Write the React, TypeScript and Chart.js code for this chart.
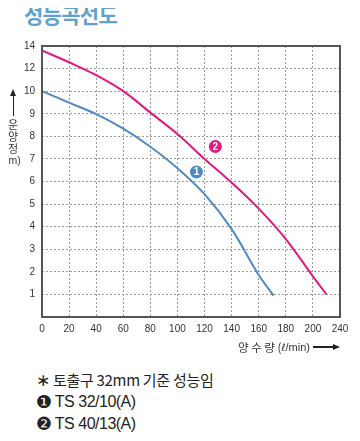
import React, { useEffect, useRef } from "react";
import Chart from "chart.js/auto";

// Real-unit data (flow in ℓ/min, head in m)
const flowBlue = [0, 20, 40, 60, 80, 100, 120, 140, 160, 171];
const headBlue = [10, 9.49, 8.98, 8.34, 7.54, 6.59, 5.44, 3.89, 1.86, 0.95];
const flowPink = [0, 20, 40, 60, 80, 100, 120, 140, 160, 180, 200, 220];
const headPink = [13.6, 12.56, 11.42, 10.0, 9.05, 8.1, 7.0, 5.95, 4.8, 3.45, 1.8, 1.0];

// Axis tick labels (as printed; the axes are compressed above 10 m / 200 ℓ/min)
const xTickLabels = ["0", "20", "40", "60", "80", "100", "120", "140", "160", "180", "200", "240"];
const yTickLabels = ["", "1", "2", "3", "4", "5", "6", "7", "8", "9", "10", "12", "14"];

// Numbered badges (flow, head)
const badgeNums = ["1", "2"];
const badgeFlow = [114, 128];
const badgeHead = [6.42, 7.55];

// Vertical y-axis title characters
const yTitleChars = ["운", "양", "정"];

const BLUE = "#4f8bc3";
const PINK = "#e2187f";

// Piecewise axis mapping
const xPos = (q: number) => (q <= 200 ? q / 20 : 10 + (q - 200) / 40);
const yPos = (h: number) => (h <= 10 ? h : 10 + (h - 10) / 2);

const toPoints = (fs: number[], hs: number[]) => fs.map((f, i) => ({ x: xPos(f), y: yPos(hs[i]) }));

export default function App() {
  const ref = useRef<HTMLCanvasElement | null>(null);

  useEffect(() => {
    if (!ref.current) return;
    const deco = {
      id: "deco",
      afterDatasetsDraw(chart: any) {
        const { ctx, chartArea, scales } = chart;
        ctx.save();
        ctx.strokeStyle = "#555";
        ctx.lineWidth = 2;
        ctx.strokeRect(chartArea.left, chartArea.top, chartArea.right - chartArea.left, chartArea.bottom - chartArea.top);
        const colors = [BLUE, PINK];
        badgeNums.forEach((n, i) => {
          const x = scales.x.getPixelForValue(xPos(badgeFlow[i]));
          const y = scales.y.getPixelForValue(yPos(badgeHead[i]));
          ctx.beginPath();
          ctx.arc(x, y, 6.5, 0, Math.PI * 2);
          ctx.fillStyle = colors[i];
          ctx.fill();
          ctx.fillStyle = "#fff";
          ctx.font = "bold 10px 'Liberation Sans', Arial, sans-serif";
          ctx.textAlign = "center";
          ctx.textBaseline = "middle";
          ctx.fillText(n, x, y + 0.5);
        });
        ctx.restore();
      },
    };
    const chart = new Chart(ref.current, {
      type: "line",
      data: {
        datasets: [
          {
            data: toPoints(flowBlue, headBlue),
            borderColor: BLUE,
            borderWidth: 2,
            pointRadius: 0,
            tension: 0.35,
          },
          {
            data: toPoints(flowPink, headPink),
            borderColor: PINK,
            borderWidth: 2,
            pointRadius: 0,
            tension: 0.35,
          },
        ],
      },
      options: {
        animation: false,
        responsive: false,
        devicePixelRatio: 1,
        layout: { padding: { top: 46, right: 20, left: 0, bottom: 0 } },
        plugins: { legend: { display: false }, tooltip: { enabled: false } },
        scales: {
          x: {
            type: "linear",
            min: 0,
            max: 11,
            afterFit: (s: any) => {
              s.height = 23;
            },
            ticks: {
              stepSize: 1,
              padding: 6,
              color: "#333",
              font: { size: 10, family: "'Liberation Sans', Arial, sans-serif" },
              maxRotation: 0,
              autoSkip: false,
              callback: (v: any) => xTickLabels[Math.round(v)] ?? "",
            },
            grid: { color: "#9a9a9a", lineWidth: 1, drawTicks: false },
            border: { display: false, dash: [2, 2] },
          },
          y: {
            type: "linear",
            min: 0,
            max: 12,
            afterFit: (s: any) => {
              s.width = 42;
            },
            ticks: {
              stepSize: 1,
              padding: 7,
              color: "#333",
              font: { size: 10, family: "'Liberation Sans', Arial, sans-serif" },
              autoSkip: false,
              callback: (v: any) => yTickLabels[Math.round(v)] ?? "",
            },
            grid: { color: "#9a9a9a", lineWidth: 1, drawTicks: false },
            border: { display: false, dash: [2, 2] },
          },
        },
      },
      plugins: [deco],
    } as any);
    return () => chart.destroy();
  }, []);

  const kr = "'Noto Sans CJK KR', 'Noto Sans', sans-serif";
  const yCharTops = [118, 130, 142];
  return (
    <div style={{ position: "relative", width: 360, height: 441, margin: -8, background: "#fff", overflow: "hidden" }}>
      <div
        style={{
          position: "absolute",
          left: 24,
          top: -1,
          fontFamily: kr,
          fontWeight: 700,
          fontSize: 21,
          color: "#62a2cc",
          letterSpacing: -0.7,
          whiteSpace: "nowrap",
        }}
      >
        성능곡선도
      </div>
      <canvas ref={ref} width={360} height={340} style={{ position: "absolute", left: 0, top: 0, width: 360, height: 340 }} />
      {/* y-axis title */}
      <div style={{ position: "absolute", left: 12.5, top: 96, width: 1.2, height: 20, background: "#222" }} />
      <div
        style={{
          position: "absolute",
          left: 9.5,
          top: 89,
          width: 0,
          height: 0,
          borderLeft: "3.5px solid transparent",
          borderRight: "3.5px solid transparent",
          borderBottom: "7px solid #222",
        }}
      />
      {yTitleChars.map((c, i) => (
        <div
          key={c}
          style={{
            position: "absolute",
            left: 0,
            top: yCharTops[i],
            width: 26,
            textAlign: "center",
            fontFamily: kr,
            fontSize: 11,
            lineHeight: "12px",
            color: "#333",
          }}
        >
          {c}
        </div>
      ))}
      <div
        style={{
          position: "absolute",
          left: 0,
          top: 154,
          width: 26,
          textAlign: "center",
          fontFamily: "'Liberation Sans', Arial, sans-serif",
          fontSize: 10.5,
          lineHeight: "13px",
          color: "#333",
          whiteSpace: "nowrap",
        }}
      >
        (m)
      </div>
      {/* x-axis title */}
      <div
        style={{
          position: "absolute",
          left: 238,
          top: 339,
          fontFamily: kr,
          fontSize: 11.5,
          color: "#333",
          whiteSpace: "nowrap",
          display: "flex",
          alignItems: "center",
        }}
      >
        <span>양 수 량 (</span>
        <span style={{ fontStyle: "italic", fontFamily: "'DejaVu Sans', sans-serif", fontSize: 10 }}>ℓ</span>
        <span style={{ fontFamily: "'Liberation Sans', Arial, sans-serif", fontSize: 11 }}>/min)</span>
        <span style={{ display: "inline-block", width: 20, height: 1.2, background: "#222", marginLeft: 3 }} />
        <span
          style={{
            display: "inline-block",
            width: 0,
            height: 0,
            borderTop: "3px solid transparent",
            borderBottom: "3px solid transparent",
            borderLeft: "7px solid #222",
          }}
        />
      </div>
      {/* notes */}
      <div
        style={{
          position: "absolute",
          left: 36,
          top: 369,
          fontFamily: kr,
          fontSize: 15,
          lineHeight: "22px",
          color: "#222",
          letterSpacing: -0.3,
          whiteSpace: "nowrap",
        }}
      >
        <div>
          <span style={{ fontFamily: "'DejaVu Sans', sans-serif", fontSize: 17 }}>∗</span> 토출구 32mm 기준 성능임
        </div>
        <div style={{ display: "flex", alignItems: "center" }}>
          <span style={{ fontFamily: "'DejaVu Sans', sans-serif", fontSize: 18, marginRight: 3 }}>❶</span>
          <span style={{ fontFamily: "'Liberation Sans Narrow', 'Liberation Sans', sans-serif", fontSize: 16, letterSpacing: -0.5 }}>TS 32/10(A)</span>
        </div>
        <div style={{ display: "flex", alignItems: "center" }}>
          <span style={{ fontFamily: "'DejaVu Sans', sans-serif", fontSize: 18, marginRight: 3 }}>❷</span>
          <span style={{ fontFamily: "'Liberation Sans Narrow', 'Liberation Sans', sans-serif", fontSize: 16, letterSpacing: -0.5 }}>TS 40/13(A)</span>
        </div>
      </div>
    </div>
  );
}
